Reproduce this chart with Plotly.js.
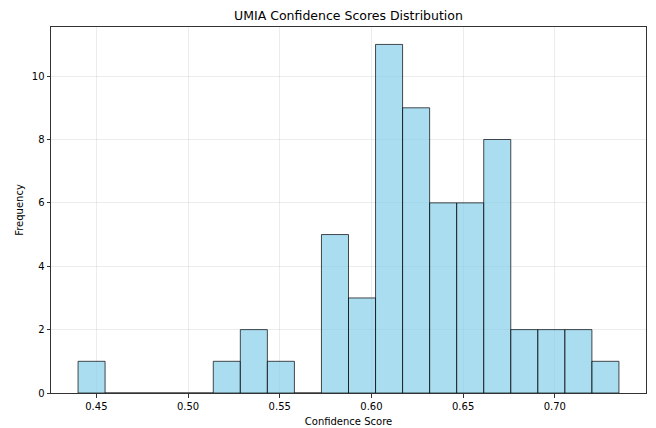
<!DOCTYPE html>
<html>
<head>
<meta charset="utf-8">
<script src="https://cdn.plot.ly/plotly-3.0.1.min.js"></script>
<style>html,body{margin:0;padding:0;background:#fff;}#chart{width:656px;height:428px;}</style>
</head>
<body>
<div id="chart"></div>
<script>
// Histogram bins
const binStart = 0.4400;
const binWidth = 0.01475;
const counts = [1, 0, 0, 0, 0, 1, 2, 1, 0, 5, 3, 11, 9, 6, 6, 8, 2, 2, 2, 1];
const xTickVals = [0.45, 0.50, 0.55, 0.60, 0.65, 0.70];
const xTickText = ["0.45", "0.50", "0.55", "0.60", "0.65", "0.70"];
const yTickVals = [0, 2, 4, 6, 8, 10];

const centers = counts.map((_, i) => binStart + binWidth * (i + 0.5));

const trace = {
  type: 'bar',
  x: centers,
  y: counts,
  width: binWidth,
  marker: {
    color: 'rgba(135,206,235,0.7)',
    line: {color: 'rgba(0,0,0,0.7)', width: 1}
  },
  hoverinfo: 'x+y'
};

const font = {family: 'DejaVu Sans, sans-serif', size: 10, color: '#000'};
const layout = {
  width: 656, height: 428,
  margin: {l: 51, r: 10, t: 27, b: 35, pad: 0},
  paper_bgcolor: '#fff', plot_bgcolor: '#fff',
  font: font,
  showlegend: false,
  bargap: 0,
  title: {text: 'UMIA Confidence Scores Distribution', font: {family: 'DejaVu Sans, sans-serif', size: 12.5, color: '#000'},
          x: 0.5, xref: 'paper', xanchor: 'center', y: 1 - 16/428, yanchor: 'middle', yref: 'container'},
  xaxis: {
    range: [binStart - 0.05 * binWidth * counts.length, binStart + 1.05 * binWidth * counts.length],
    tickvals: xTickVals, ticktext: xTickText,
    ticks: 'outside', ticklen: 3.5, tickwidth: 0.8, tickcolor: '#000',
    showline: true, linecolor: '#333', linewidth: 1, mirror: true,
    showgrid: true, gridcolor: 'rgba(176,176,176,0.3)', gridwidth: 0.8,
    zeroline: false,
    tickfont: font,
    title: {text: 'Confidence Score', font: font, standoff: 7}
  },
  yaxis: {
    range: [0, 11.55],
    tickvals: yTickVals,
    ticks: 'outside', ticklen: 3.5, tickwidth: 0.8, tickcolor: '#000',
    showline: true, linecolor: '#333', linewidth: 1, mirror: true,
    showgrid: true, gridcolor: 'rgba(176,176,176,0.3)', gridwidth: 0.8,
    zeroline: false,
    tickfont: font,
    title: {text: 'Frequency', font: font, standoff: 6}
  }
};

Plotly.newPlot('chart', [trace], layout, {displayModeBar: false, staticPlot: true});
</script>
</body>
</html>
